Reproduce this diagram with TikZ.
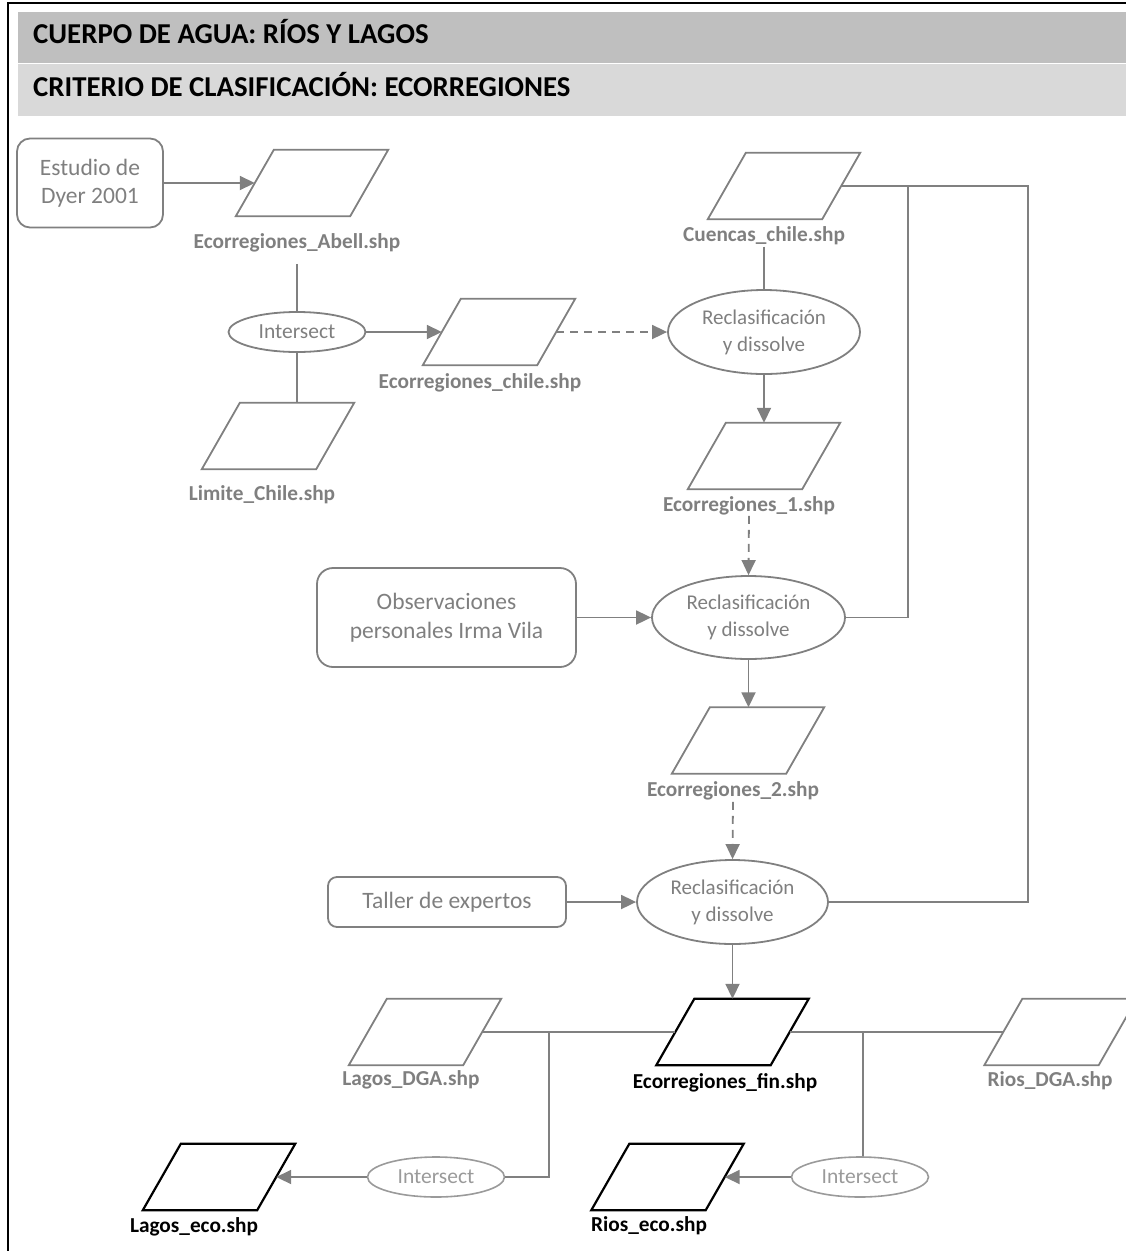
\documentclass[tikz,border=0pt]{standalone}
\usepackage{fontspec}
\setmainfont{Carlito}
\usetikzlibrary{shapes.geometric,arrows.meta}

\definecolor{ln}{HTML}{808080}
\definecolor{txt}{HTML}{7F7F7F}
\definecolor{lite}{HTML}{9A9A9A}
\definecolor{bandA}{HTML}{BFBFBF}
\definecolor{bandB}{HTML}{D9D9D9}

\tikzset{
  conn/.style={draw=ln, line width=1.8pt},
  arr/.style={conn, -{Triangle[length=15pt,width=14pt]}},
  darr/.style={arr, dash pattern=on 8pt off 6pt},
  layer/.style={rectangle, minimum width=152pt, minimum height=66pt, inner sep=0pt},
  layerline/.style={draw=ln, line width=1.8pt, line join=miter},
  layerblack/.style={draw=black, line width=2.2pt, line join=miter},
  source/.style={draw=ln, line width=1.8pt, rounded corners=13pt, text=txt,
    align=center, font=\fontsize{23.5}{28.5}\selectfont},
  process/.style={ellipse, draw=ln, line width=1.8pt, inner sep=0pt,
    text=txt, align=center, font=\fontsize{21}{27}\selectfont},
  isect/.style={ellipse, draw=lite, line width=1.6pt, inner sep=0pt,
    minimum width=137pt, minimum height=40pt, text=lite,
    font=\fontsize{21.5}{25}\selectfont},
  flabel/.style={anchor=base, inner sep=0pt, text=txt,
    font=\fontsize{21.3}{25}\selectfont\bfseries},
  flabelk/.style={flabel, text=black},
  title/.style={anchor=base west, inner sep=0pt, text=black,
    font=\fontsize{28.8}{33}\selectfont\bfseries},
}

% slanted outline of a data layer node (parallelogram leaning right)
\newcommand{\layeroutline}[2][layerline]{%
  \draw[#1] (#2.south west) -- ([xshift=-38pt]#2.south east) -- (#2.north east)
    -- ([xshift=38pt]#2.north west) -- cycle;}

\begin{document}
\begin{tikzpicture}[x=1pt,y=-1pt]
\useasboundingbox (0,0) rectangle (1126,1251);

% page frame and header bands
\draw[line width=2pt] (8,1251) -- (8,3) -- (1126,3);
\fill[bandA] (18,12) rectangle (1126,63);
\fill[bandB] (18,64) rectangle (1126,116);
\node[title] (t1) at (33,43) {CUERPO DE AGUA: RÍOS Y LAGOS};
\node[title] (t2) at (33,96) {CRITERIO DE CLASIFICACIÓN: ECORREGIONES};

% sources
\node[source, minimum width=146pt, minimum height=89pt] (dyer) at (90,183) {Estudio de\\Dyer 2001};
\node[source, minimum width=259pt, minimum height=99pt, rounded corners=16pt] (obs) at (446.5,617.5) {Observaciones\\personales Irma Vila};
\node[source, minimum width=238pt, minimum height=50pt, rounded corners=9pt] (taller) at (447,902) {Taller de expertos};

% data layers
\node[layer] (abell) at (312,183) {};
\node[flabel] (abellL) at (297,248) {Ecorregiones\_Abell.shp};
\node[layer] (limite) at (278,436) {};
\node[flabel] (limiteL) at (262,500) {Limite\_Chile.shp};
\node[layer] (ecochile) at (499,332) {};
\node[flabel] (ecochileL) at (480,388) {Ecorregiones\_chile.shp};
\node[layer] (cuencas) at (784,186) {};
\node[flabel] (cuencasL) at (764,241) {Cuencas\_chile.shp};
\node[layer] (eco1) at (764,456) {};
\node[flabel] (eco1L) at (749,511) {Ecorregiones\_1.shp};
\node[layer] (eco2) at (748,740.5) {};
\node[flabel] (eco2L) at (733,796) {Ecorregiones\_2.shp};
\node[layer] (fin) at (732.5,1032) {};
\node[flabelk] (finL) at (725,1088) {Ecorregiones\_fin.shp};
\node[layer] (lagosdga) at (425,1032) {};
\node[flabel] (lagosdgaL) at (411,1085) {Lagos\_DGA.shp};
\node[layer] (riosdga) at (1060.5,1032) {};
\node[flabel] (riosdgaL) at (1050,1086) {Rios\_DGA.shp};
\node[layer] (lagoseco) at (219,1177) {};
\node[flabelk] (lagosecoL) at (194,1232) {Lagos\_eco.shp};
\node[layer] (rioseco) at (667.5,1177) {};
\node[flabelk] (riosecoL) at (649,1231) {Rios\_eco.shp};

\foreach \n in {abell,limite,ecochile,cuencas,eco1,eco2,lagosdga,riosdga}
  {\layeroutline{\n}}
\foreach \n in {fin,lagoseco,rioseco}
  {\layeroutline[layerblack]{\n}}

% processes
\node[isect, text=txt, draw=ln, line width=1.8pt] (int1) at (297,332) {Intersect};
\node[process, minimum width=192pt, minimum height=84pt] (rec1) at (764,332) {Reclasificación\\y dissolve};
\node[process, minimum width=193pt, minimum height=83pt] (rec2) at (748.5,617.5) {Reclasificación\\y dissolve};
\node[process, minimum width=191pt, minimum height=84pt] (rec3) at (732.5,902) {Reclasificación\\y dissolve};
\node[isect] (int2) at (436,1177) {Intersect};
\node[isect] (int3) at (860,1177) {Intersect};

% junction points
\coordinate (j1) at (908,186);
\coordinate (j2) at (1028,186);
\coordinate (j3) at (549,1032);
\coordinate (j4) at (863,1032);

% upper chain
\draw[arr] (dyer.east) -- ([xshift=19pt]abell.west);
\draw[conn, shorten <=12pt] (abellL.south) -- (int1.north);
\draw[conn] (int1.south) -- (int1.south |- limite.north);
\draw[arr] (int1.east) -- ([xshift=19pt]ecochile.west);
\draw[darr] ([xshift=-19pt]ecochile.east) -- (rec1.west);
\draw[conn, shorten <=2pt] (cuencasL.south) -- (rec1.north);
\draw[arr] (rec1.south) -- (rec1.south |- eco1.north);
\draw[conn] ([xshift=-19pt]cuencas.east) -- (j2) |- (rec3.east);
\draw[conn] (j1) |- (rec2.east);

% second and third reclassification
\draw[darr, shorten <=1pt] (eco1L.south) -- (rec2.north);
\draw[arr] (obs.east) -- (rec2.west);
\draw[arr] (rec2.south) -- (rec2.south |- eco2.north);
\draw[darr, shorten <=2pt] (eco2L.south) -- (rec3.north);
\draw[arr] (taller.east) -- (rec3.west);
\draw[arr] (rec3.south) -- (rec3.south |- fin.north);

% final intersections
\draw[conn] ([xshift=-19pt]lagosdga.east) -- ([xshift=19pt]fin.west);
\draw[conn] (j3) |- (int2.east);
\draw[conn] ([xshift=-19pt]fin.east) -- ([xshift=19pt]riosdga.west);
\draw[conn] (j4) -- (j4 |- int3.north);
\draw[arr] (int2.west) -- ([xshift=-19pt]lagoseco.east);
\draw[arr] (int3.west) -- ([xshift=-19pt]rioseco.east);
\end{tikzpicture}
\end{document}
